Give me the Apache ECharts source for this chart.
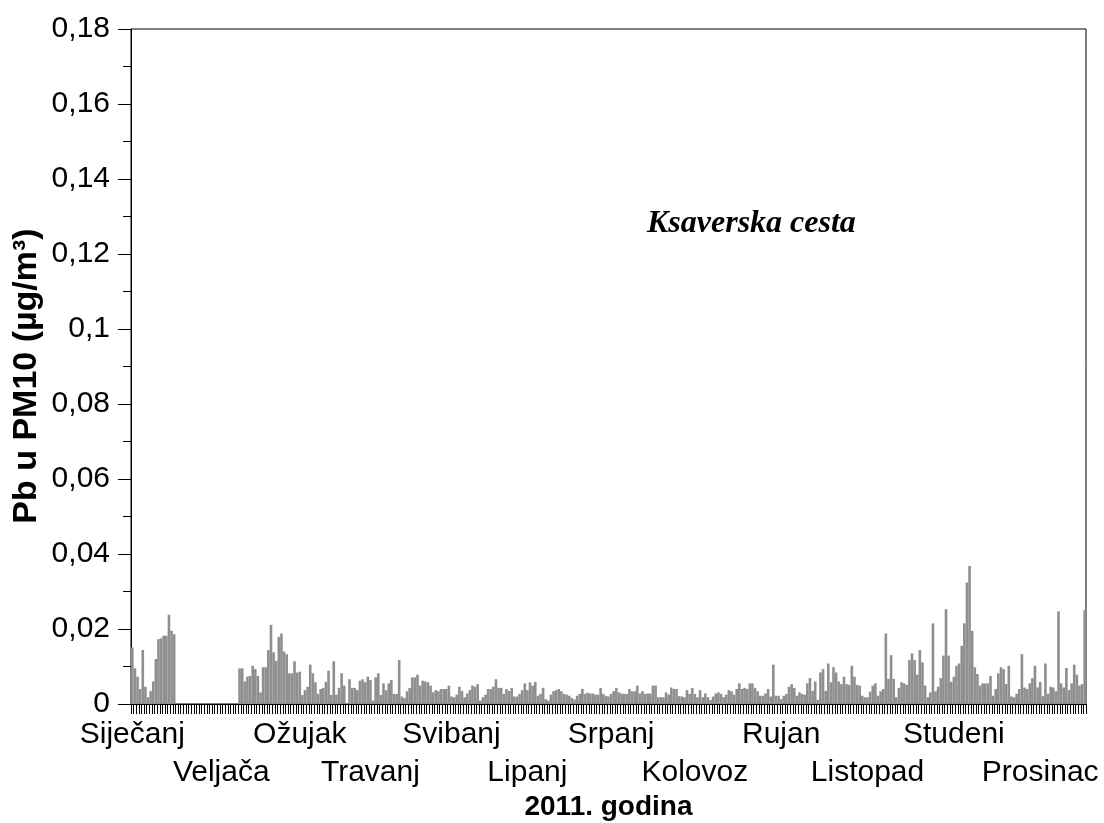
<!DOCTYPE html>
<html><head><meta charset="utf-8">
<script src="https://cdn.jsdelivr.net/npm/echarts@6/dist/echarts.min.js"></script>
<style>html,body{margin:0;padding:0;background:#fff}#c{width:1104px;height:823px}</style>
</head><body><div id="c"></div>
<script>
// Month labels (Croatian)
const monthNames = ['Siječanj','Veljača','Ožujak','Travanj','Svibanj','Lipanj','Srpanj','Kolovoz','Rujan','Listopad','Studeni','Prosinac'];

// Daily Pb in PM10 (µg/m³), 2011, Ksaverska cesta; null = no measurement
const jan = [0.0151,0.0095,0.0073,0.0040,0.0144,0.0046,0.0018,0.0034,0.0060,0.0120,0.0173,0.0175,0.0182,0.0182,0.0238,0.0195,0.0186,
  null,null,null,null,null,null,null,null,null,null,null,null,null,null];
const feb = [null,null,null,null,null,null,null,null,null,null,
  0.0095,0.0095,0.0060,0.0073,0.0075,0.0102,0.0093,0.0075,0.0031,0.0098,0.0098,0.0144,0.0211,0.0138,0.0115,0.0179,0.0188,0.0140];
const mar = [0.0133,0.0082,0.0082,0.0114,0.0084,0.0086,0.0024,0.0037,0.0046,0.0105,0.0082,0.0058,0.0027,0.0040,0.0043,0.0059,
  0.0089,0.0024,0.0114,0.0025,0.0043,0.0082,0.0049,0.0002,0.0066,0.0043,0.0043,0.0037,0.0062,0.0066,0.0058];
const apr = [0.0073,0.0064,0.0009,0.0071,0.0082,0.0024,0.0055,0.0037,0.0055,0.0064,0.0027,0.0027,0.0117,0.0020,0.0016,
  0.0034,0.0043,0.0071,0.0071,0.0078,0.0049,0.0062,0.0060,0.0058,0.0049,0.0031,0.0037,0.0034,0.0040,0.0040];
const may = [0.0040,0.0049,0.0020,0.0018,0.0025,0.0046,0.0035,0.0018,0.0028,0.0037,0.0049,0.0046,0.0053,0.0009,0.0018,0.0025,
  0.0040,0.0040,0.0046,0.0066,0.0043,0.0043,0.0027,0.0040,0.0035,0.0043,0.0020,0.0020,0.0027,0.0037,0.0055];
const jun = [0.0037,0.0058,0.0049,0.0059,0.0022,0.0027,0.0043,0.0013,0.0009,0.0025,0.0034,0.0037,0.0040,0.0034,0.0027,
  0.0025,0.0022,0.0016,0.0012,0.0022,0.0027,0.0040,0.0027,0.0030,0.0028,0.0028,0.0025,0.0025,0.0043,0.0027];
const jul = [0.0022,0.0020,0.0027,0.0034,0.0043,0.0031,0.0028,0.0027,0.0027,0.0040,0.0034,0.0034,0.0049,0.0028,0.0034,0.0027,
  0.0028,0.0028,0.0049,0.0049,0.0018,0.0018,0.0018,0.0031,0.0025,0.0044,0.0040,0.0040,0.0021,0.0020,0.0018];
const aug = [0.0037,0.0027,0.0043,0.0027,0.0018,0.0037,0.0018,0.0028,0.0018,0.0011,0.0020,0.0028,0.0031,0.0027,0.0018,0.0025,
  0.0037,0.0034,0.0025,0.0040,0.0055,0.0040,0.0043,0.0040,0.0055,0.0055,0.0043,0.0034,0.0022,0.0022,0.0028];
const sep = [0.0040,0.0020,0.0105,0.0022,0.0022,0.0013,0.0022,0.0027,0.0046,0.0053,0.0043,0.0022,0.0031,0.0027,0.0025,
  0.0055,0.0069,0.0035,0.0060,0.0011,0.0084,0.0093,0.0035,0.0108,0.0058,0.0098,0.0084,0.0060,0.0053,0.0073];
const oct = [0.0053,0.0051,0.0102,0.0073,0.0051,0.0049,0.0022,0.0018,0.0018,0.0033,0.0049,0.0055,0.0022,0.0034,0.0040,0.0188,
  0.0067,0.0130,0.0067,0.0018,0.0043,0.0058,0.0055,0.0051,0.0117,0.0135,0.0117,0.0078,0.0144,0.0111,0.0049];
const nov = [0.0018,0.0031,0.0215,0.0034,0.0046,0.0069,0.0129,0.0253,0.0129,0.0059,0.0073,0.0102,0.0108,0.0155,0.0215,
  0.0324,0.0368,0.0195,0.0098,0.0080,0.0049,0.0055,0.0055,0.0055,0.0075,0.0022,0.0040,0.0082,0.0098,0.0093];
const dec = [0.0053,0.0102,0.0020,0.0018,0.0027,0.0040,0.0133,0.0044,0.0040,0.0055,0.0069,0.0102,0.0044,0.0059,0.0021,0.0108,
  0.0027,0.0046,0.0044,0.0034,0.0247,0.0055,0.0044,0.0096,0.0037,0.0055,0.0105,0.0078,0.0049,0.0053,0.0250];

const yMin = 0, yMax = 0.18, yStep = 0.02;
const yTitle = 'Pb u PM10 (µg/m³)';
const xTitle = '2011. godina';
const stationName = 'Ksaverska cesta';

const values = [].concat(jan, feb, mar, apr, may, jun, jul, aug, sep, oct, nov, dec);
const days = values.map((v, i) => String(i + 1));

// layout only: day index under which each month name is written (two staggered rows)
const labelAt = [0, 34, 64, 91, 122, 151, 183, 215, 248, 281, 314, 347];

const FONT = '"Liberation Sans", Arial, sans-serif';

function monthLabelAxis(row, extra) {
  // row 0: Siječanj, Ožujak, ...; row 1: Veljača, Travanj, ...
  const pick = (idx) => { const k = labelAt.indexOf(idx); return k >= 0 && k % 2 === row; };
  return Object.assign({
    type: 'category', data: days, boundaryGap: true, gridIndex: 0, position: 'bottom',
    axisLabel: {
      interval: (idx) => pick(idx),
      formatter: (val, idx) => pick(idx) ? monthNames[labelAt.indexOf(idx)] : '',
      hideOverlap: false, showMinLabel: true, showMaxLabel: true,
      fontFamily: FONT, fontSize: 30, color: '#000', margin: row === 0 ? 16 : 54
    },
    splitLine: {show: false}
  }, extra);
}

const chart = echarts.init(document.getElementById('c'), null, {renderer: 'canvas'});
chart.setOption({
  animation: false,
  backgroundColor: '#fff',
  grid: {left: 131, right: 18, top: 29, bottom: 119, show: true, borderColor: '#000', borderWidth: 1,
         containLabel: false, outerBoundsMode: 'none'},
  xAxis: [
    monthLabelAxis(0, {
      name: xTitle, nameLocation: 'middle', nameGap: 89,
      nameTextStyle: {fontFamily: FONT, fontSize: 28, fontWeight: 'bold', color: '#000'},
      axisLine: {lineStyle: {color: '#000', width: 1}},
      axisTick: {show: true, interval: 0, length: 10, lineStyle: {color: '#000', width: 1}}
    }),
    monthLabelAxis(1, {
      axisLine: {show: false},
      axisTick: {show: false}
    })
  ],
  yAxis: {
    type: 'value', min: yMin, max: yMax, interval: yStep,
    axisLine: {show: true, lineStyle: {color: '#000', width: 1}},
    axisTick: {show: true, length: 13, lineStyle: {color: '#000', width: 1}},
    minorTick: {show: true, splitNumber: 2, length: 8, lineStyle: {color: '#000', width: 1}},
    axisLabel: {
      formatter: (v) => String(Math.round(v * 100) / 100).replace('.', ','),
      fontFamily: FONT, fontSize: 30, color: '#000', margin: 21
    },
    splitLine: {show: false}
  },
  graphic: [{
    type: 'text', x: 27, y: 376, rotation: Math.PI / 2,
    style: {text: yTitle, font: 'bold 34px "Liberation Sans", Arial, sans-serif', fill: '#000',
            textAlign: 'center', textVerticalAlign: 'middle'}
  }, {
    type: 'text', left: 647, top: 208,
    style: {text: stationName, font: 'italic bold 32px "Liberation Serif", "Times New Roman", serif', fill: '#000'}
  }],
  series: [{
    type: 'bar', data: values, xAxisIndex: 0, barCategoryGap: '0%', barGap: 0,
    itemStyle: {color: '#8f8f8f'}, large: false
  }]
});
</script></body></html>
